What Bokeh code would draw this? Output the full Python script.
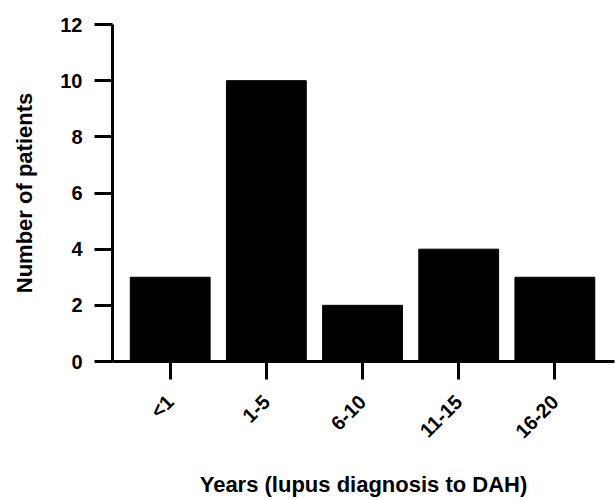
from bokeh.plotting import figure
from bokeh.models import Range1d, FixedTicker, ColumnDataSource
from bokeh.embed import file_html
from bokeh.resources import INLINE

categories = ["<1", "1-5", "6-10", "11-15", "16-20"]
patients = [3, 10, 2, 4, 3]
y_ticks = [0, 2, 4, 6, 8, 10, 12]

xs = list(range(len(categories)))
src = ColumnDataSource(dict(x=xs, top=patients))

p = figure(width=615, height=500, output_backend="svg", toolbar_location=None,
           x_range=Range1d(-0.6, len(categories) - 0.38), y_range=Range1d(0, 12),
           min_border_left=112, min_border_right=1, min_border_top=24, min_border_bottom=139)
p.outline_line_color = None
p.xgrid.visible = False
p.ygrid.visible = False

p.vbar(x="x", top="top", bottom=0, width=0.83, source=src, fill_color="black", line_color="black")

font = "Liberation Sans"
for ax in (p.xaxis[0], p.yaxis[0]):
    ax.axis_line_width = 3
    ax.axis_line_color = "black"
    ax.major_tick_line_width = 3
    ax.major_tick_line_color = "black"
    ax.major_tick_in = 0
    ax.major_tick_out = 18
    ax.minor_tick_line_color = None
    ax.major_label_text_font = font
    ax.major_label_text_font_style = "bold"
    ax.major_label_text_color = "black"
    ax.axis_label_text_font = font
    ax.axis_label_text_font_style = "bold"
    ax.axis_label_text_font_size = "22px"
    ax.axis_label_text_color = "black"

p.yaxis.ticker = FixedTicker(ticks=y_ticks)
p.yaxis.major_label_text_font_size = "20px"
p.yaxis.major_label_standoff = 12
p.yaxis.axis_label = "Number of patients"
p.yaxis.axis_label_standoff = 20

p.xaxis.ticker = FixedTicker(ticks=xs)
p.xaxis.major_label_overrides = {i: c for i, c in enumerate(categories)}
p.xaxis.major_label_orientation = 0.785398
p.xaxis.major_label_text_font_size = "20px"
p.xaxis.major_label_standoff = 19
p.xaxis.axis_label = "Years (lupus diagnosis to DAH)"
p.xaxis.axis_label_standoff = 19

open("out.html", "w").write(file_html(p, INLINE))
